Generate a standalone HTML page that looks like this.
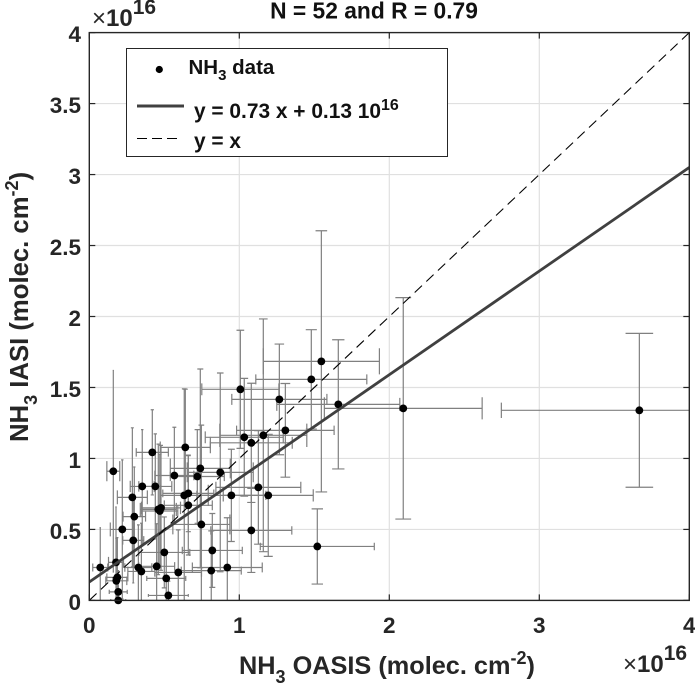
<!DOCTYPE html>
<html lang="en">
<head>
<meta charset="utf-8">
<title>NH3 IASI vs OASIS</title>
<style>
html,body{margin:0;padding:0;background:#fff;width:695px;height:687px;overflow:hidden}
svg{display:block}
text{font-family:"Liberation Sans",sans-serif;font-weight:bold;fill:#262626}
</style>
</head>
<body>
<svg id="chart" xmlns="http://www.w3.org/2000/svg" width="695" height="687" viewBox="0 0 695 687">
  <rect x="0" y="0" width="695" height="687" fill="#fff"/>
  <g id="grid"></g>
  <g id="errors"></g>
  <g id="points"></g>
  <g id="lines"></g>
  <g id="axes"></g>

  <text x="374" y="18.5" text-anchor="middle" font-size="22.8" style="fill:#111">N = 52 and R = 0.79</text>

  <text x="239" y="674" font-size="25.3">NH<tspan font-size="18" dy="9">3</tspan><tspan dy="-9"> OASIS (molec. cm</tspan><tspan font-size="18" dy="-10">-2</tspan><tspan dy="10">)</tspan></text>
  <text transform="translate(28,442) rotate(-90)" x="0" y="0" font-size="25.7">NH<tspan font-size="18" dy="9">3</tspan><tspan dy="-9"> IASI (molec. cm</tspan><tspan font-size="18" dy="-10">-2</tspan><tspan dy="10">)</tspan></text>

  <text x="623" y="672" font-size="24"><tspan font-weight="normal">×</tspan>10<tspan font-size="21" dy="-12">16</tspan></text>
  <text x="92" y="26" font-size="24"><tspan font-weight="normal">×</tspan>10<tspan font-size="21" dy="-12">16</tspan></text>

  <g>
    <rect x="126.5" y="48.5" width="321" height="108" fill="#fff" stroke="#262626" stroke-width="1"/>
    <circle cx="159.3" cy="69.5" r="3.6" fill="#000"/>
    <text x="188.5" y="74" font-size="20.5" style="fill:#111">NH<tspan font-size="15" dy="6">3</tspan><tspan dy="-6"> data</tspan></text>
    <line x1="137" y1="106" x2="184" y2="106" stroke="#404040" stroke-width="3"/>
    <text x="194" y="118" font-size="20.9" style="fill:#111">y = 0.73 x + 0.13 10<tspan font-size="16" dy="-8">16</tspan></text>
    <line x1="137" y1="138.5" x2="179" y2="138.5" stroke="#000" stroke-width="1" stroke-dasharray="10 5"/>
    <text x="194" y="148" font-size="20.9" style="fill:#111">y = x</text>
  </g>
</svg>
<script>
const xValues = [0.073,0.16,0.178,0.187,0.18,0.193,0.193,0.22,0.287,0.30,0.293,0.327,0.347,0.353,0.42,0.44,0.449,0.46,0.478,0.47,0.5,0.513,0.527,0.567,0.593,0.64,0.633,0.66,0.66,0.72,0.74,0.747,0.813,0.82,0.873,0.92,0.947,1.007,1.033,1.08,1.08,1.127,1.16,1.193,1.267,1.307,1.48,1.52,1.547,1.66,2.093,3.667];
const yValues = [0.232,0.91,0.268,0.162,0.138,0.06,0,0.5,0.726,0.59,0.423,0.232,0.204,0.803,1.043,0.803,0.24,0.641,0.652,0.63,0.338,0.155,0.035,0.88,0.197,1.078,0.74,0.754,0.67,0.873,0.93,0.535,0.21,0.352,0.902,0.232,0.74,1.487,1.149,0.493,1.11,0.796,1.163,0.74,1.416,1.198,1.557,0.38,1.684,1.381,1.353,1.339];
const xErrors = [0.05,0.043,0.05,0.07,0.07,0.06,0.05,0.08,0.1,0.075,0.07,0.09,0.09,0.08,0.107,0.11,0.12,0.12,0.13,0.12,0.17,0.13,0.133,0.13,0.155,0.167,0.16,0.17,0.16,0.18,0.2,0.19,0.2,0.2,0.22,0.233,0.23,0.257,0.26,0.27,0.273,0.283,0.29,0.3,0.317,0.325,0.37,0.38,0.387,0.41,0.526,0.92];
const yErrors = [0.28,0.71,0.39,0.28,0.3,0.15,0.1,0.49,0.49,0.35,0.3,0.3,0.34,0.4,0.3,0.37,0.3,0.46,0.44,0.4,0.25,0.18,0.1,0.34,0.3,0.41,0.75,0.27,0.35,0.33,0.7,0.7,0.28,0.26,0.7,0.35,0.325,0.416,0.415,0.296,0.42,0.4,0.82,0.43,0.39,0.33,0.35,0.265,0.92,0.455,0.78,0.542];
const fitSlope = 0.73;
const fitIntercept = 0.13;
const identitySlope = 1;
const identityIntercept = 0;
const xTicks = [0,1,2,3,4];
const xTickLabels = ["0","1","2","3","4"];
const yTicks = [0,0.5,1,1.5,2,2.5,3,3.5,4];
const yTickLabels = ["0","0.5","1","1.5","2","2.5","3","3.5","4"];

const NS = "http://www.w3.org/2000/svg";
const left = 89.3, right = 689.3, bottom = 600.4, top_ = 32.6;
const xMax = 4, yMax = 4;
function sx(v){ return left + (right - left) * v / xMax; }
function sy(v){ return bottom - (bottom - top_) * v / yMax; }
function mk(tag, parent, props){
  const el = document.createElementNS(NS, tag);
  for (const k in props) el.setAttribute(k, props[k]);
  parent.appendChild(el);
  return el;
}
const gridG = document.getElementById("grid");
const errG = document.getElementById("errors");
const ptsG = document.getElementById("points");
const lineG = document.getElementById("lines");
const axG = document.getElementById("axes");

xTicks.forEach(function(t, i){
  if (t > 0 && t < xMax) {
    const g = mk("line", gridG, {x1:sx(t), x2:sx(t), y1:top_, y2:bottom, stroke:"#e0e0e0", "stroke-width":1.2});
    
    
  }
  [[bottom, bottom-6],[top_, top_+6]].forEach(function(p){
    const tk = mk("line", axG, {x1:sx(t), x2:sx(t), y1:p[0], y2:p[1], stroke:"#262626", "stroke-width":1.2});
    
    
  });
  const lb = mk("text", axG, {x:sx(t), y:633, "text-anchor":"middle", "font-size":22.5});
  lb.textContent = xTickLabels[i];
  
  
});
yTicks.forEach(function(t, i){
  if (t > 0 && t < yMax) {
    const g = mk("line", gridG, {x1:left, x2:right, y1:sy(t), y2:sy(t), stroke:"#e0e0e0", "stroke-width":1.2});
    
    
  }
  [[left, left+6],[right, right-6]].forEach(function(p){
    const tk = mk("line", axG, {x1:p[0], x2:p[1], y1:sy(t), y2:sy(t), stroke:"#262626", "stroke-width":1.2});
    
    
  });
  const lb = mk("text", axG, {x:81, y:sy(t)+9.5, "text-anchor":"end", "font-size":22.5});
  lb.textContent = yTickLabels[i];
  
  
});
const frame = mk("rect", axG, {x:left, y:top_, width:right-left, height:bottom-top_, fill:"none", stroke:"#262626", "stroke-width":1.4});



const clipDefs = mk("defs", document.getElementById("chart"), {});
const clip = mk("clipPath", clipDefs, {id:"plot-clip"});
mk("rect", clip, {x:left, y:top_, width:right-left, height:bottom-top_});
errG.setAttribute("clip-path", "url(#plot-clip)");
lineG.setAttribute("clip-path", "url(#plot-clip)");

xValues.forEach(function(x, i){
  const y = yValues[i], xe = xErrors[i], ye = yErrors[i];
  const px = sx(x), py = sy(y);
  const capV = (sx(xe) - sx(0)) * 0.1;
  const capH = (sy(0) - sy(ye)) * 0.1;
  const d = "M" + sx(x-xe) + " " + py + "H" + sx(x+xe) +
            "M" + sx(x-xe) + " " + (py-capH) + "V" + (py+capH) +
            "M" + sx(x+xe) + " " + (py-capH) + "V" + (py+capH) +
            "M" + px + " " + sy(y-ye) + "V" + sy(y+ye) +
            "M" + (px-capV) + " " + sy(y-ye) + "H" + (px+capV) +
            "M" + (px-capV) + " " + sy(y+ye) + "H" + (px+capV);
  const e = mk("path", errG, {d:d, fill:"none", stroke:"#808080", "stroke-width":1.2});
  
  
});
xValues.forEach(function(x, i){
  const c = mk("circle", ptsG, {cx:sx(x), cy:sy(yValues[i]), r:3.9, fill:"#000"});
  
  
});
const fitLine = mk("line", lineG, {x1:sx(0), y1:sy(fitIntercept), x2:sx(xMax), y2:sy(fitSlope*xMax+fitIntercept), stroke:"#404040", "stroke-width":2.8});


const idLine = mk("line", lineG, {x1:sx(0), y1:sy(identityIntercept), x2:sx(xMax), y2:sy(identitySlope*xMax+identityIntercept), stroke:"#000", "stroke-width":1.1, "stroke-dasharray":"10 6"});


</script>
</body>
</html>
